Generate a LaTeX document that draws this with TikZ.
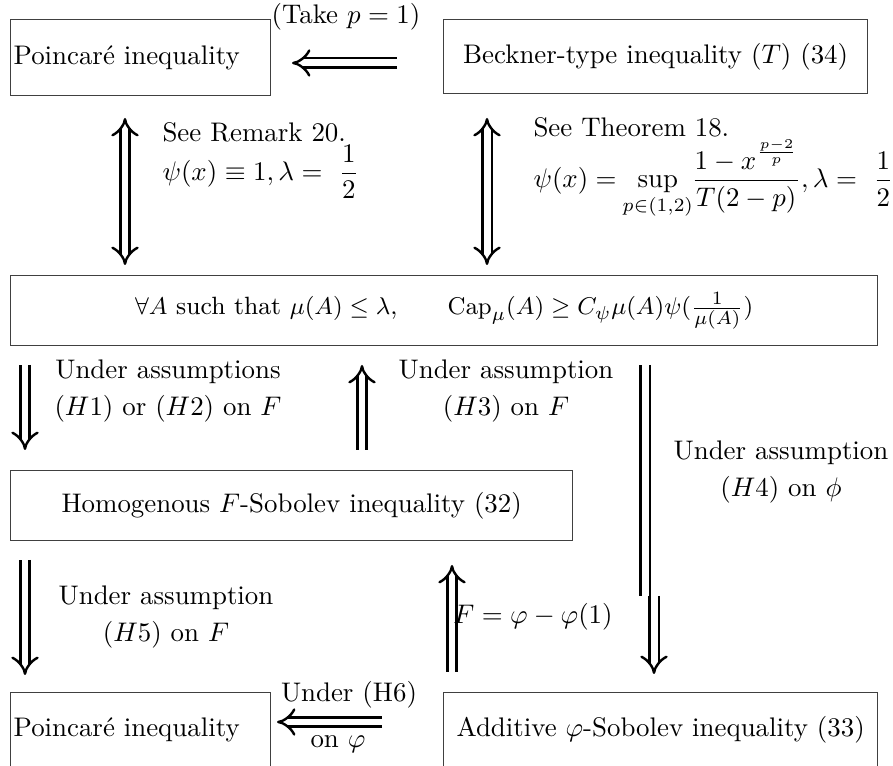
\documentclass[tikz,border=0pt]{standalone}
\usepackage{amsmath}
\usepackage{mathtools}
\usetikzlibrary{arrows.meta}
\newcommand\pxu{0.372pt}
\begin{document}
\begin{tikzpicture}[x=\pxu, y=-\pxu,
  box/.style={draw=black!75, line width=0.5pt, rectangle, inner xsep=3*\pxu, inner ysep=0pt, anchor=north west},
  dbl/.style={double, double distance=2.6pt, line width=0.9pt, -{Implies[scale=1.2]}},
  dbltwo/.style={double, double distance=2.6pt, line width=0.9pt, {Implies[scale=1.2]}-{Implies[scale=1.2]}},
  dblline/.style={double, double distance=2.6pt, line width=0.9pt},
  lbl/.style={align=center, inner sep=0pt}]
\useasboundingbox (0,0) rectangle (893,766);
% boxes
\node[box, minimum width=260*\pxu, minimum height=76*\pxu, text width=94.5pt, align=left] (poinA) at (10,19) {Poincar\'e inequality};
\node[box, minimum width=424*\pxu, minimum height=74*\pxu] (beck) at (443,19) {Beckner-type inequality $(T)$ $(34)$};
\node[box, minimum width=867*\pxu, minimum height=70*\pxu, font=\fontsize{9.3}{11}\selectfont] (cap) at (10,275) {$\forall A$ such that $\mu(A)\le\lambda$,\qquad $\mathrm{Cap}_\mu(A)\ge C_\psi\mu(A)\psi(\frac{1}{\mu(A)})$};
\node[box, minimum width=562*\pxu, minimum height=70*\pxu] (homog) at (10,470) {Homogenous $F$-Sobolev inequality $(32)$};
\node[box, minimum width=260*\pxu, minimum height=74*\pxu, text width=94.5pt, align=left] (poinB) at (10,692) {Poincar\'e inequality};
\node[box, minimum width=434*\pxu, minimum height=74*\pxu] (addit) at (443,692) {Additive $\varphi$-Sobolev inequality $(33)$};
% arrow end points
\coordinate (t1) at (397,63); \coordinate (t2) at (292,63);
\coordinate (l1) at (125,118); \coordinate (l2) at (125,265);
\coordinate (m1) at (487,118); \coordinate (m2) at (487,265);
\coordinate (d1) at (25,365); \coordinate (d2) at (25,450);
\coordinate (u1) at (362,450); \coordinate (u2) at (362,365);
\coordinate (r1) at (645,365); \coordinate (r2) at (645,596);
\coordinate (r3) at (654,596); \coordinate (r4) at (654,674);
\coordinate (e1) at (25,560); \coordinate (e2) at (25,675);
\coordinate (f1) at (452,672); \coordinate (f2) at (452,565);
\coordinate (g1) at (382,722); \coordinate (g2) at (277,722);
% arrows
\draw[dbl] (t1) -- (t2);
\draw[dbltwo] (l1) -- (l2);
\draw[dbltwo] (m1) -- (m2);
\draw[dbl] (d1) -- (d2);
\draw[dbl] (u1) -- (u2);
\draw[dblline] (r1) -- (r2);
\draw[dbl] (r3) -- (r4);
\draw[dbl] (e1) -- (e2);
\draw[dbl] (f1) -- (f2);
\draw[dbl] (g1) -- (g2);
% labels
\node[lbl] (takep) at (346,17) {(Take $p=1$)};
\node[lbl, anchor=north west, align=left] (rem) at (162,122) {See Remark 20.\\ $\psi(x)\equiv 1, \lambda =\ \dfrac{1}{2}$};
\node[lbl, anchor=north west, align=left] (thm) at (533,117) {See Theorem 18.\\ $\psi(x) =\ \, \sup\limits_{\mathclap{p\in(1,2)}}\ \dfrac{1-x^{\frac{p-2}{p}}}{T(2-p)}, \lambda =\ \dfrac{1}{2}$};
\node[lbl] (hA) at (168,391) {Under assumptions\\[1.5pt] $(H1)$ or $(H2)$ on $F$};
\node[lbl] (hB) at (506,391) {Under assumption\\[1.5pt] $(H3)$ on $F$};
\node[lbl] (hC) at (781,472) {Under assumption\\[1.5pt] $(H4)$ on $\phi$};
\node[lbl] (hD) at (166,617) {Under assumption\\[1.5pt] $(H5)$ on $F$};
\node[lbl] (feq) at (533,617) {$F=\varphi-\varphi(1)$};
\node[lbl] (hF) at (349,695) {Under (H6)};
\node[lbl] (hG) at (338,744) {on $\varphi$};
\end{tikzpicture}
\end{document}
